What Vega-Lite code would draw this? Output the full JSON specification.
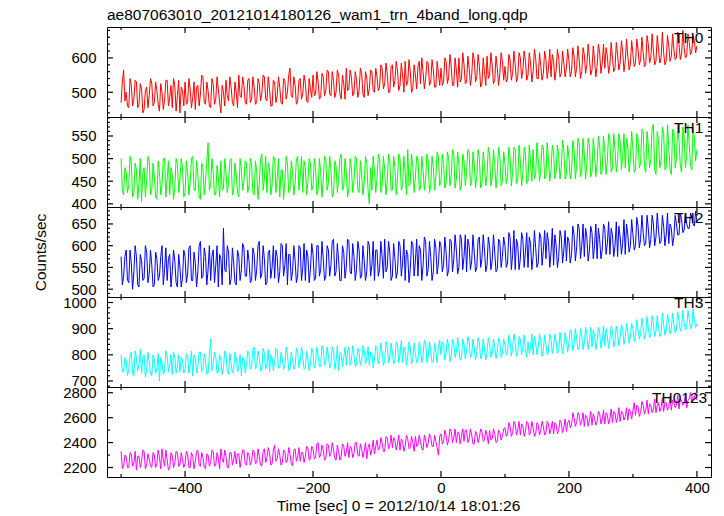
{
"$schema": "https://vega.github.io/schema/vega-lite/v6.json",
"padding": {"left": 32, "top": 7, "right": 12, "bottom": 2},
"background": "white",
"title": {"text": "ae807063010_20121014180126_wam1_trn_4band_long.qdp", "anchor": "start", "frame": "group", "font": "Liberation Sans", "fontSize": 15.5, "fontWeight": "normal", "color": "black", "offset": 3},
"config": {
  "view": {"stroke": "black", "strokeWidth": 1},
  "axis": {"domain": false, "ticks": false, "grid": false, "labelFont": "Liberation Sans", "labelFontSize": 15, "labelColor": "black", "labelFlush": false, "labelOverlap": false, "titleFont": "Liberation Sans", "titleFontSize": 15.5, "titleFontWeight": "normal", "titleColor": "black"},
  "axisX": {"labelPadding": 3},
  "axisY": {"labelPadding": 11},
  "text": {"font": "Liberation Sans", "fontSize": 15.5, "color": "black", "align": "right", "baseline": "alphabetic"},
  "tick": {"color": "black", "thickness": 1.2, "opacity": 1}
},
"bounds": "flush",
"spacing": 0,
"datasets": {
"xM": [{"v":-400},{"v":-200},{"v":0},{"v":200},{"v":400}],
"xm": [{"v":-500},{"v":-300},{"v":-100},{"v":100},{"v":300}],
"y0M": [{"v":500},{"v":600}],
"y0m": [{"v":440},{"v":460},{"v":480},{"v":520},{"v":540},{"v":560},{"v":580},{"v":620},{"v":640},{"v":660},{"v":680}],
"y1M": [{"v":400},{"v":450},{"v":500},{"v":550}],
"y1m": [{"v":410},{"v":420},{"v":430},{"v":440},{"v":460},{"v":470},{"v":480},{"v":490},{"v":510},{"v":520},{"v":530},{"v":540},{"v":560},{"v":570},{"v":580},{"v":590}],
"y2M": [{"v":500},{"v":550},{"v":600},{"v":650}],
"y2m": [{"v":490},{"v":510},{"v":520},{"v":530},{"v":540},{"v":560},{"v":570},{"v":580},{"v":590},{"v":610},{"v":620},{"v":630},{"v":640},{"v":660},{"v":670},{"v":680}],
"y3M": [{"v":700},{"v":800},{"v":900},{"v":1000}],
"y3m": [{"v":680},{"v":720},{"v":740},{"v":760},{"v":780},{"v":820},{"v":840},{"v":860},{"v":880},{"v":920},{"v":940},{"v":960},{"v":980},{"v":1020}],
"y4M": [{"v":2200},{"v":2400},{"v":2600},{"v":2800}],
"y4m": [{"v":2300},{"v":2500},{"v":2700}],
"lc": [
{"t":-500,"a":470,"b":500,"c":575,"d":800,"e":2330},
{"t":-498,"a":530,"b":430,"c":510,"d":735,"e":2190},
{"t":-496,"a":565,"b":420,"c":530,"d":735,"e":2210},
{"t":-494,"a":475,"b":480,"c":575,"d":790,"e":2300},
{"t":-492,"a":500,"b":470,"c":590,"d":780,"e":2290},
{"t":-490,"a":460,"b":425,"c":520,"d":720,"e":2200},
{"t":-488,"a":455,"b":440,"c":515,"d":745,"e":2200},
{"t":-486,"a":540,"b":505,"c":590,"d":795,"e":2320},
{"t":-484,"a":520,"b":490,"c":560,"d":810,"e":2310},
{"t":-482,"a":460,"b":415,"c":500,"d":730,"e":2210},
{"t":-480,"a":480,"b":425,"c":540,"d":720,"e":2240},
{"t":-478,"a":535,"b":490,"c":600,"d":815,"e":2330},
{"t":-476,"a":530,"b":475,"c":575,"d":790,"e":2180},
{"t":-474,"a":455,"b":410,"c":510,"d":740,"e":2290},
{"t":-472,"a":465,"b":445,"c":505,"d":760,"e":2290},
{"t":-470,"a":525,"b":500,"c":580,"d":820,"e":2200},
{"t":-468,"a":510,"b":405,"c":565,"d":730,"e":2250},
{"t":-466,"a":440,"b":470,"c":520,"d":790,"e":2340},
{"t":-464,"a":450,"b":480,"c":525,"d":800,"e":2330},
{"t":-462,"a":505,"b":415,"c":600,"d":715,"e":2190},
{"t":-460,"a":515,"b":450,"c":585,"d":745,"e":2220},
{"t":-458,"a":455,"b":505,"c":515,"d":810,"e":2310},
{"t":-456,"a":490,"b":495,"c":535,"d":775,"e":2270},
{"t":-454,"a":540,"b":420,"c":590,"d":725,"e":2210},
{"t":-452,"a":525,"b":430,"c":555,"d":720,"e":2200},
{"t":-450,"a":460,"b":490,"c":505,"d":800,"e":2320},
{"t":-448,"a":470,"b":460,"c":510,"d":785,"e":2300},
{"t":-446,"a":530,"b":415,"c":585,"d":730,"e":2200},
{"t":-444,"a":505,"b":410,"c":570,"d":750,"e":2230},
{"t":-442,"a":465,"b":495,"c":520,"d":805,"e":2340},
{"t":-440,"a":445,"b":470,"c":530,"d":700,"e":2280},
{"t":-438,"a":525,"b":420,"c":575,"d":790,"e":2190},
{"t":-436,"a":500,"b":440,"c":600,"d":770,"e":2350},
{"t":-434,"a":450,"b":500,"c":510,"d":725,"e":2260},
{"t":-432,"a":475,"b":500,"c":545,"d":740,"e":2210},
{"t":-430,"a":535,"b":415,"c":595,"d":815,"e":2340},
{"t":-428,"a":535,"b":455,"c":520,"d":800,"e":2260},
{"t":-426,"a":460,"b":495,"c":570,"d":735,"e":2180},
{"t":-424,"a":485,"b":420,"c":580,"d":760,"e":2190},
{"t":-422,"a":520,"b":480,"c":505,"d":800,"e":2320},
{"t":-420,"a":455,"b":465,"c":540,"d":725,"e":2300},
{"t":-418,"a":540,"b":410,"c":590,"d":810,"e":2200},
{"t":-416,"a":520,"b":435,"c":565,"d":790,"e":2240},
{"t":-414,"a":445,"b":500,"c":515,"d":730,"e":2330},
{"t":-412,"a":490,"b":490,"c":505,"d":755,"e":2320},
{"t":-410,"a":535,"b":425,"c":580,"d":800,"e":2210},
{"t":-408,"a":440,"b":455,"c":550,"d":735,"e":2220},
{"t":-406,"a":515,"b":500,"c":505,"d":790,"e":2320},
{"t":-404,"a":505,"b":480,"c":525,"d":780,"e":2270},
{"t":-402,"a":460,"b":415,"c":590,"d":730,"e":2200},
{"t":-400,"a":530,"b":425,"c":575,"d":745,"e":2230},
{"t":-398,"a":465,"b":495,"c":515,"d":805,"e":2330},
{"t":-396,"a":470,"b":470,"c":535,"d":800,"e":2310},
{"t":-394,"a":540,"b":420,"c":595,"d":730,"e":2200},
{"t":-392,"a":510,"b":445,"c":600,"d":760,"e":2200},
{"t":-390,"a":455,"b":500,"c":520,"d":815,"e":2320},
{"t":-388,"a":485,"b":505,"c":520,"d":720,"e":2290},
{"t":-386,"a":530,"b":430,"c":585,"d":800,"e":2190},
{"t":-384,"a":450,"b":430,"c":560,"d":790,"e":2250},
{"t":-382,"a":515,"b":495,"c":505,"d":730,"e":2330},
{"t":-380,"a":520,"b":465,"c":540,"d":755,"e":2340},
{"t":-378,"a":460,"b":415,"c":600,"d":810,"e":2220},
{"t":-376,"a":495,"b":410,"c":610,"d":810,"e":2210},
{"t":-374,"a":550,"b":490,"c":525,"d":735,"e":2320},
{"t":-372,"a":545,"b":480,"c":530,"d":740,"e":2280},
{"t":-370,"a":470,"b":420,"c":595,"d":805,"e":2200},
{"t":-368,"a":465,"b":450,"c":575,"d":775,"e":2190},
{"t":-366,"a":530,"b":495,"c":510,"d":725,"e":2310},
{"t":-364,"a":505,"b":535,"c":545,"d":730,"e":2300},
{"t":-362,"a":460,"b":430,"c":600,"d":800,"e":2210},
{"t":-360,"a":455,"b":440,"c":520,"d":860,"e":2245},
{"t":-358,"a":540,"b":500,"c":575,"d":740,"e":2340},
{"t":-356,"a":525,"b":470,"c":590,"d":765,"e":2330},
{"t":-354,"a":465,"b":420,"c":515,"d":810,"e":2210},
{"t":-352,"a":480,"b":420,"c":555,"d":795,"e":2220},
{"t":-350,"a":545,"b":485,"c":600,"d":730,"e":2320},
{"t":-348,"a":510,"b":460,"c":505,"d":735,"e":2275},
{"t":-346,"a":470,"b":415,"c":580,"d":800,"e":2190},
{"t":-344,"a":440,"b":495,"c":570,"d":780,"e":2350},
{"t":-342,"a":520,"b":430,"c":510,"d":725,"e":2270},
{"t":-340,"a":500,"b":435,"c":640,"d":750,"e":2240},
{"t":-338,"a":460,"b":500,"c":545,"d":815,"e":2340},
{"t":-336,"a":535,"b":470,"c":540,"d":800,"e":2290},
{"t":-334,"a":490,"b":425,"c":600,"d":740,"e":2200},
{"t":-332,"a":475,"b":445,"c":585,"d":725,"e":2200},
{"t":-330,"a":545,"b":495,"c":510,"d":805,"e":2320},
{"t":-328,"a":515,"b":500,"c":525,"d":770,"e":2320},
{"t":-326,"a":470,"b":420,"c":595,"d":730,"e":2220},
{"t":-324,"a":460,"b":430,"c":560,"d":745,"e":2260},
{"t":-322,"a":530,"b":490,"c":515,"d":810,"e":2330},
{"t":-320,"a":500,"b":465,"c":510,"d":790,"e":2230},
{"t":-318,"a":455,"b":425,"c":590,"d":735,"e":2310},
{"t":-316,"a":550,"b":415,"c":575,"d":755,"e":2310},
{"t":-314,"a":490,"b":500,"c":520,"d":800,"e":2200},
{"t":-312,"a":485,"b":475,"c":545,"d":720,"e":2270},
{"t":-310,"a":545,"b":430,"c":605,"d":790,"e":2340},
{"t":-308,"a":520,"b":450,"c":595,"d":785,"e":2340},
{"t":-306,"a":470,"b":495,"c":530,"d":730,"e":2230},
{"t":-304,"a":465,"b":490,"c":530,"d":760,"e":2220},
{"t":-302,"a":535,"b":425,"c":590,"d":815,"e":2320},
{"t":-300,"a":540,"b":440,"c":565,"d":800,"e":2300},
{"t":-298,"a":470,"b":500,"c":515,"d":745,"e":2220},
{"t":-296,"a":480,"b":485,"c":520,"d":750,"e":2250},
{"t":-294,"a":545,"b":425,"c":595,"d":820,"e":2340},
{"t":-292,"a":515,"b":420,"c":580,"d":830,"e":2330},
{"t":-290,"a":465,"b":495,"c":520,"d":745,"e":2230},
{"t":-288,"a":470,"b":470,"c":545,"d":760,"e":2240},
{"t":-286,"a":540,"b":410,"c":600,"d":815,"e":2350},
{"t":-284,"a":525,"b":445,"c":610,"d":790,"e":2290},
{"t":-282,"a":475,"b":500,"c":525,"d":740,"e":2220},
{"t":-280,"a":495,"b":510,"c":535,"d":740,"e":2210},
{"t":-278,"a":550,"b":430,"c":600,"d":825,"e":2330},
{"t":-276,"a":545,"b":455,"c":570,"d":805,"e":2350},
{"t":-274,"a":480,"b":505,"c":510,"d":745,"e":2240},
{"t":-272,"a":475,"b":425,"c":515,"d":765,"e":2280},
{"t":-270,"a":545,"b":490,"c":585,"d":820,"e":2360},
{"t":-268,"a":510,"b":480,"c":590,"d":735,"e":2320},
{"t":-266,"a":460,"b":420,"c":525,"d":800,"e":2220},
{"t":-264,"a":460,"b":440,"c":550,"d":790,"e":2230},
{"t":-262,"a":535,"b":505,"c":600,"d":740,"e":2340},
{"t":-260,"a":530,"b":500,"c":525,"d":770,"e":2380},
{"t":-258,"a":470,"b":425,"c":590,"d":825,"e":2250},
{"t":-256,"a":490,"b":455,"c":575,"d":820,"e":2270},
{"t":-254,"a":545,"b":500,"c":515,"d":750,"e":2350},
{"t":-252,"a":515,"b":415,"c":540,"d":750,"e":2300},
{"t":-250,"a":470,"b":475,"c":605,"d":810,"e":2220},
{"t":-248,"a":465,"b":475,"c":600,"d":785,"e":2240},
{"t":-246,"a":540,"b":410,"c":530,"d":745,"e":2340},
{"t":-244,"a":535,"b":450,"c":555,"d":760,"e":2330},
{"t":-242,"a":480,"b":505,"c":605,"d":830,"e":2240},
{"t":-240,"a":500,"b":490,"c":510,"d":805,"e":2260},
{"t":-238,"a":550,"b":425,"c":580,"d":740,"e":2360},
{"t":-236,"a":570,"b":430,"c":580,"d":745,"e":2310},
{"t":-234,"a":490,"b":495,"c":520,"d":810,"e":2230},
{"t":-232,"a":485,"b":470,"c":540,"d":780,"e":2215},
{"t":-230,"a":545,"b":420,"c":600,"d":745,"e":2340},
{"t":-228,"a":520,"b":445,"c":565,"d":755,"e":2350},
{"t":-226,"a":465,"b":500,"c":515,"d":825,"e":2250},
{"t":-224,"a":475,"b":505,"c":530,"d":810,"e":2280},
{"t":-222,"a":535,"b":430,"c":600,"d":750,"e":2360},
{"t":-220,"a":540,"b":460,"c":595,"d":770,"e":2250},
{"t":-218,"a":480,"b":505,"c":520,"d":830,"e":2320},
{"t":-216,"a":495,"b":425,"c":550,"d":795,"e":2320},
{"t":-214,"a":550,"b":495,"c":605,"d":745,"e":2240},
{"t":-212,"a":525,"b":480,"c":520,"d":750,"e":2290},
{"t":-210,"a":475,"b":420,"c":590,"d":815,"e":2370},
{"t":-208,"a":470,"b":450,"c":575,"d":780,"e":2360},
{"t":-206,"a":540,"b":500,"c":515,"d":740,"e":2260},
{"t":-204,"a":510,"b":490,"c":545,"d":765,"e":2270},
{"t":-202,"a":485,"b":430,"c":605,"d":825,"e":2370},
{"t":-200,"a":550,"b":440,"c":580,"d":810,"e":2350},
{"t":-198,"a":490,"b":500,"c":520,"d":750,"e":2270},
{"t":-196,"a":495,"b":480,"c":525,"d":770,"e":2280},
{"t":-194,"a":560,"b":420,"c":600,"d":830,"e":2390},
{"t":-192,"a":530,"b":430,"c":600,"d":795,"e":2400},
{"t":-190,"a":480,"b":500,"c":530,"d":755,"e":2280},
{"t":-188,"a":485,"b":470,"c":545,"d":755,"e":2300},
{"t":-186,"a":555,"b":415,"c":610,"d":835,"e":2380},
{"t":-184,"a":545,"b":455,"c":570,"d":820,"e":2340},
{"t":-182,"a":490,"b":505,"c":520,"d":760,"e":2260},
{"t":-180,"a":505,"b":500,"c":530,"d":780,"e":2270},
{"t":-178,"a":565,"b":430,"c":600,"d":830,"e":2390},
{"t":-176,"a":560,"b":445,"c":590,"d":800,"e":2380},
{"t":-174,"a":495,"b":505,"c":530,"d":750,"e":2290},
{"t":-172,"a":490,"b":475,"c":555,"d":765,"e":2310},
{"t":-170,"a":560,"b":415,"c":610,"d":830,"e":2400},
{"t":-168,"a":535,"b":420,"c":615,"d":815,"e":2350},
{"t":-166,"a":485,"b":495,"c":530,"d":745,"e":2270},
{"t":-164,"a":500,"b":485,"c":540,"d":775,"e":2260},
{"t":-162,"a":565,"b":425,"c":605,"d":835,"e":2380},
{"t":-160,"a":550,"b":455,"c":565,"d":740,"e":2330},
{"t":-158,"a":495,"b":500,"c":520,"d":810,"e":2260},
{"t":-156,"a":480,"b":510,"c":520,"d":805,"e":2290},
{"t":-154,"a":550,"b":430,"c":600,"d":755,"e":2390},
{"t":-152,"a":525,"b":440,"c":585,"d":790,"e":2370},
{"t":-150,"a":480,"b":500,"c":525,"d":830,"e":2290},
{"t":-148,"a":570,"b":470,"c":550,"d":760,"e":2320},
{"t":-146,"a":505,"b":415,"c":615,"d":810,"e":2400},
{"t":-144,"a":510,"b":435,"c":610,"d":830,"e":2280},
{"t":-142,"a":565,"b":500,"c":540,"d":760,"e":2370},
{"t":-140,"a":545,"b":480,"c":535,"d":780,"e":2360},
{"t":-138,"a":490,"b":425,"c":605,"d":835,"e":2280},
{"t":-136,"a":495,"b":450,"c":575,"d":800,"e":2310},
{"t":-134,"a":560,"b":505,"c":520,"d":755,"e":2400},
{"t":-132,"a":535,"b":500,"c":545,"d":765,"e":2400},
{"t":-130,"a":485,"b":430,"c":610,"d":825,"e":2300},
{"t":-128,"a":505,"b":425,"c":590,"d":810,"e":2290},
{"t":-126,"a":570,"b":495,"c":525,"d":760,"e":2390},
{"t":-124,"a":555,"b":465,"c":530,"d":775,"e":2350},
{"t":-122,"a":495,"b":420,"c":600,"d":835,"e":2280},
{"t":-120,"a":485,"b":445,"c":565,"d":820,"e":2330},
{"t":-118,"a":560,"b":505,"c":520,"d":765,"e":2400},
{"t":-116,"a":540,"b":490,"c":540,"d":790,"e":2270},
{"t":-114,"a":490,"b":430,"c":610,"d":830,"e":2360},
{"t":-112,"a":510,"b":400,"c":600,"d":760,"e":2390},
{"t":-110,"a":565,"b":480,"c":530,"d":810,"e":2300},
{"t":-108,"a":560,"b":430,"c":555,"d":805,"e":2340},
{"t":-106,"a":505,"b":505,"c":610,"d":750,"e":2420},
{"t":-104,"a":500,"b":475,"c":520,"d":780,"e":2310},
{"t":-102,"a":570,"b":425,"c":590,"d":835,"e":2370},
{"t":-100,"a":545,"b":455,"c":590,"d":825,"e":2420},
{"t":-98,"a":505,"b":510,"c":530,"d":765,"e":2340},
{"t":-96,"a":515,"b":500,"c":545,"d":790,"e":2350},
{"t":-94,"a":580,"b":425,"c":610,"d":845,"e":2440},
{"t":-92,"a":570,"b":440,"c":575,"d":810,"e":2400},
{"t":-90,"a":510,"b":505,"c":525,"d":760,"e":2330},
{"t":-88,"a":525,"b":475,"c":615,"d":775,"e":2330},
{"t":-86,"a":585,"b":420,"c":540,"d":850,"e":2450},
{"t":-84,"a":555,"b":450,"c":550,"d":835,"e":2440},
{"t":-82,"a":500,"b":510,"c":610,"d":770,"e":2350},
{"t":-80,"a":500,"b":495,"c":585,"d":795,"e":2380},
{"t":-78,"a":575,"b":430,"c":520,"d":845,"e":2460},
{"t":-76,"a":580,"b":430,"c":530,"d":810,"e":2360},
{"t":-74,"a":515,"b":505,"c":605,"d":765,"e":2440},
{"t":-72,"a":535,"b":480,"c":570,"d":780,"e":2420},
{"t":-70,"a":590,"b":420,"c":525,"d":850,"e":2340},
{"t":-68,"a":565,"b":455,"c":540,"d":840,"e":2390},
{"t":-66,"a":505,"b":510,"c":610,"d":770,"e":2460},
{"t":-64,"a":520,"b":500,"c":600,"d":800,"e":2340},
{"t":-62,"a":585,"b":430,"c":530,"d":855,"e":2430},
{"t":-60,"a":550,"b":440,"c":560,"d":770,"e":2410},
{"t":-58,"a":500,"b":505,"c":615,"d":830,"e":2330},
{"t":-56,"a":590,"b":470,"c":520,"d":815,"e":2370},
{"t":-54,"a":520,"b":420,"c":590,"d":760,"e":2460},
{"t":-52,"a":530,"b":520,"c":580,"d":795,"e":2430},
{"t":-50,"a":595,"b":440,"c":515,"d":850,"e":2350},
{"t":-48,"a":560,"b":445,"c":545,"d":830,"e":2360},
{"t":-46,"a":500,"b":510,"c":610,"d":765,"e":2450},
{"t":-44,"a":510,"b":480,"c":605,"d":785,"e":2400},
{"t":-42,"a":580,"b":425,"c":530,"d":845,"e":2330},
{"t":-40,"a":550,"b":460,"c":565,"d":805,"e":2450},
{"t":-38,"a":510,"b":505,"c":615,"d":770,"e":2370},
{"t":-36,"a":575,"b":500,"c":530,"d":780,"e":2380},
{"t":-34,"a":590,"b":430,"c":600,"d":850,"e":2460},
{"t":-32,"a":525,"b":435,"c":590,"d":825,"e":2410},
{"t":-30,"a":600,"b":505,"c":520,"d":770,"e":2350},
{"t":-28,"a":560,"b":475,"c":555,"d":800,"e":2340},
{"t":-26,"a":510,"b":430,"c":620,"d":855,"e":2460},
{"t":-24,"a":540,"b":455,"c":610,"d":845,"e":2420},
{"t":-22,"a":590,"b":510,"c":530,"d":770,"e":2360},
{"t":-20,"a":585,"b":495,"c":545,"d":790,"e":2395},
{"t":-18,"a":520,"b":425,"c":610,"d":850,"e":2470},
{"t":-16,"a":530,"b":440,"c":575,"d":815,"e":2440},
{"t":-14,"a":595,"b":505,"c":520,"d":770,"e":2370},
{"t":-12,"a":565,"b":480,"c":540,"d":775,"e":2370},
{"t":-10,"a":515,"b":430,"c":615,"d":845,"e":2460},
{"t":-8,"a":515,"b":460,"c":595,"d":810,"e":2410},
{"t":-6,"a":590,"b":515,"c":535,"d":770,"e":2360},
{"t":-4,"a":555,"b":505,"c":560,"d":830,"e":2300},
{"t":-2,"a":520,"b":440,"c":610,"d":855,"e":2450},
{"t":0,"a":570,"b":450,"c":600,"d":800,"e":2470},
{"t":2,"a":520,"b":510,"c":540,"d":850,"e":2390},
{"t":4,"a":530,"b":490,"c":555,"d":840,"e":2410},
{"t":6,"a":600,"b":435,"c":620,"d":780,"e":2500},
{"t":8,"a":590,"b":445,"c":585,"d":810,"e":2460},
{"t":10,"a":525,"b":515,"c":530,"d":860,"e":2380},
{"t":12,"a":545,"b":500,"c":545,"d":830,"e":2420},
{"t":14,"a":610,"b":440,"c":615,"d":775,"e":2510},
{"t":16,"a":575,"b":465,"c":610,"d":795,"e":2490},
{"t":18,"a":520,"b":520,"c":540,"d":860,"e":2400},
{"t":20,"a":520,"b":510,"c":570,"d":845,"e":2440},
{"t":22,"a":600,"b":435,"c":625,"d":790,"e":2510},
{"t":24,"a":565,"b":455,"c":590,"d":810,"e":2400},
{"t":26,"a":515,"b":515,"c":535,"d":865,"e":2480},
{"t":28,"a":600,"b":485,"c":550,"d":825,"e":2480},
{"t":30,"a":530,"b":430,"c":625,"d":780,"e":2390},
{"t":32,"a":540,"b":440,"c":615,"d":790,"e":2450},
{"t":34,"a":615,"b":510,"c":545,"d":860,"e":2510},
{"t":36,"a":580,"b":495,"c":575,"d":840,"e":2410},
{"t":38,"a":525,"b":440,"c":625,"d":785,"e":2500},
{"t":40,"a":530,"b":470,"c":540,"d":815,"e":2500},
{"t":42,"a":605,"b":520,"c":615,"d":870,"e":2400},
{"t":44,"a":570,"b":515,"c":600,"d":850,"e":2430},
{"t":46,"a":520,"b":440,"c":545,"d":790,"e":2510},
{"t":48,"a":550,"b":450,"c":565,"d":800,"e":2460},
{"t":50,"a":615,"b":515,"c":625,"d":860,"e":2390},
{"t":52,"a":595,"b":490,"c":585,"d":830,"e":2390},
{"t":54,"a":530,"b":435,"c":540,"d":780,"e":2490},
{"t":56,"a":545,"b":460,"c":550,"d":810,"e":2470},
{"t":58,"a":610,"b":520,"c":615,"d":865,"e":2400},
{"t":60,"a":575,"b":500,"c":620,"d":845,"e":2440},
{"t":62,"a":515,"b":435,"c":550,"d":785,"e":2510},
{"t":64,"a":525,"b":445,"c":570,"d":795,"e":2490},
{"t":66,"a":600,"b":515,"c":625,"d":860,"e":2410},
{"t":68,"a":560,"b":485,"c":590,"d":825,"e":2420},
{"t":70,"a":520,"b":440,"c":540,"d":780,"e":2500},
{"t":72,"a":605,"b":465,"c":555,"d":810,"e":2460},
{"t":74,"a":540,"b":525,"c":620,"d":865,"e":2390},
{"t":76,"a":550,"b":510,"c":600,"d":840,"e":2500},
{"t":78,"a":615,"b":440,"c":545,"d":790,"e":2420},
{"t":80,"a":580,"b":455,"c":565,"d":800,"e":2430},
{"t":82,"a":525,"b":520,"c":625,"d":860,"e":2510},
{"t":84,"a":535,"b":490,"c":585,"d":830,"e":2470},
{"t":86,"a":605,"b":435,"c":540,"d":785,"e":2400},
{"t":88,"a":570,"b":470,"c":545,"d":815,"e":2410},
{"t":90,"a":520,"b":525,"c":615,"d":865,"e":2500},
{"t":92,"a":555,"b":505,"c":610,"d":850,"e":2480},
{"t":94,"a":615,"b":440,"c":550,"d":790,"e":2420},
{"t":96,"a":590,"b":450,"c":575,"d":805,"e":2450},
{"t":98,"a":535,"b":515,"c":620,"d":860,"e":2510},
{"t":100,"a":575,"b":490,"c":600,"d":840,"e":2520},
{"t":102,"a":530,"b":445,"c":550,"d":800,"e":2450},
{"t":104,"a":540,"b":460,"c":560,"d":810,"e":2470},
{"t":106,"a":610,"b":525,"c":630,"d":875,"e":2560},
{"t":108,"a":595,"b":505,"c":620,"d":855,"e":2530},
{"t":110,"a":535,"b":440,"c":545,"d":795,"e":2450},
{"t":112,"a":555,"b":470,"c":580,"d":825,"e":2480},
{"t":114,"a":620,"b":525,"c":635,"d":880,"e":2570},
{"t":116,"a":580,"b":520,"c":545,"d":845,"e":2550},
{"t":118,"a":530,"b":445,"c":615,"d":795,"e":2460},
{"t":120,"a":545,"b":455,"c":600,"d":810,"e":2500},
{"t":122,"a":615,"b":530,"c":545,"d":870,"e":2570},
{"t":124,"a":600,"b":495,"c":570,"d":860,"e":2460},
{"t":126,"a":540,"b":440,"c":630,"d":800,"e":2550},
{"t":128,"a":565,"b":470,"c":615,"d":830,"e":2530},
{"t":130,"a":620,"b":525,"c":550,"d":875,"e":2450},
{"t":132,"a":590,"b":510,"c":585,"d":815,"e":2490},
{"t":134,"a":535,"b":445,"c":630,"d":790,"e":2570},
{"t":136,"a":550,"b":450,"c":550,"d":850,"e":2560},
{"t":138,"a":615,"b":530,"c":620,"d":805,"e":2460},
{"t":140,"a":585,"b":490,"c":605,"d":825,"e":2480},
{"t":142,"a":530,"b":450,"c":545,"d":880,"e":2570},
{"t":144,"a":560,"b":520,"c":575,"d":800,"e":2520},
{"t":146,"a":625,"b":455,"c":635,"d":870,"e":2450},
{"t":148,"a":600,"b":465,"c":595,"d":845,"e":2470},
{"t":150,"a":540,"b":535,"c":550,"d":800,"e":2560},
{"t":152,"a":540,"b":500,"c":560,"d":830,"e":2540},
{"t":154,"a":615,"b":450,"c":630,"d":880,"e":2460},
{"t":156,"a":575,"b":480,"c":620,"d":855,"e":2500},
{"t":158,"a":535,"b":530,"c":555,"d":795,"e":2570},
{"t":160,"a":555,"b":525,"c":590,"d":820,"e":2530},
{"t":162,"a":620,"b":455,"c":635,"d":875,"e":2460},
{"t":164,"a":595,"b":460,"c":570,"d":840,"e":2480},
{"t":166,"a":540,"b":535,"c":630,"d":800,"e":2570},
{"t":168,"a":570,"b":500,"c":610,"d":810,"e":2550},
{"t":170,"a":625,"b":450,"c":550,"d":880,"e":2470},
{"t":172,"a":545,"b":475,"c":585,"d":860,"e":2510},
{"t":174,"a":610,"b":530,"c":640,"d":805,"e":2570},
{"t":176,"a":590,"b":515,"c":555,"d":830,"e":2470},
{"t":178,"a":535,"b":455,"c":625,"d":880,"e":2560},
{"t":180,"a":565,"b":470,"c":600,"d":850,"e":2540},
{"t":182,"a":625,"b":530,"c":550,"d":805,"e":2470},
{"t":184,"a":600,"b":505,"c":575,"d":820,"e":2500},
{"t":186,"a":545,"b":455,"c":635,"d":885,"e":2580},
{"t":188,"a":555,"b":480,"c":620,"d":845,"e":2560},
{"t":190,"a":620,"b":540,"c":560,"d":805,"e":2480},
{"t":192,"a":585,"b":520,"c":590,"d":835,"e":2520},
{"t":194,"a":545,"b":455,"c":635,"d":885,"e":2590},
{"t":196,"a":570,"b":465,"c":565,"d":860,"e":2490},
{"t":198,"a":625,"b":530,"c":620,"d":810,"e":2560},
{"t":200,"a":590,"b":500,"c":610,"d":850,"e":2580},
{"t":202,"a":545,"b":455,"c":560,"d":895,"e":2520},
{"t":204,"a":560,"b":470,"c":580,"d":880,"e":2540},
{"t":206,"a":630,"b":540,"c":645,"d":815,"e":2640},
{"t":208,"a":605,"b":520,"c":625,"d":840,"e":2600},
{"t":210,"a":545,"b":455,"c":565,"d":900,"e":2530},
{"t":212,"a":570,"b":485,"c":595,"d":865,"e":2560},
{"t":214,"a":635,"b":545,"c":650,"d":820,"e":2640},
{"t":216,"a":595,"b":535,"c":640,"d":830,"e":2620},
{"t":218,"a":540,"b":460,"c":570,"d":900,"e":2540},
{"t":220,"a":560,"b":475,"c":600,"d":870,"e":2570},
{"t":222,"a":630,"b":545,"c":650,"d":820,"e":2640},
{"t":224,"a":610,"b":510,"c":575,"d":845,"e":2530},
{"t":226,"a":555,"b":455,"c":640,"d":905,"e":2620},
{"t":228,"a":580,"b":490,"c":620,"d":880,"e":2610},
{"t":230,"a":640,"b":545,"c":565,"d":820,"e":2530},
{"t":232,"a":600,"b":530,"c":590,"d":850,"e":2580},
{"t":234,"a":550,"b":460,"c":645,"d":905,"e":2650},
{"t":236,"a":565,"b":470,"c":630,"d":830,"e":2540},
{"t":238,"a":635,"b":545,"c":570,"d":895,"e":2630},
{"t":240,"a":595,"b":515,"c":600,"d":875,"e":2600},
{"t":242,"a":545,"b":460,"c":650,"d":820,"e":2540},
{"t":244,"a":575,"b":490,"c":570,"d":850,"e":2570},
{"t":246,"a":640,"b":550,"c":640,"d":905,"e":2650},
{"t":248,"a":615,"b":530,"c":615,"d":885,"e":2630},
{"t":250,"a":555,"b":465,"c":570,"d":825,"e":2550},
{"t":252,"a":585,"b":475,"c":590,"d":855,"e":2580},
{"t":254,"a":640,"b":550,"c":650,"d":910,"e":2660},
{"t":256,"a":570,"b":515,"c":640,"d":835,"e":2550},
{"t":258,"a":630,"b":465,"c":580,"d":900,"e":2640},
{"t":260,"a":605,"b":495,"c":605,"d":870,"e":2620},
{"t":262,"a":555,"b":555,"c":655,"d":825,"e":2550},
{"t":264,"a":580,"b":540,"c":580,"d":860,"e":2590},
{"t":266,"a":645,"b":470,"c":640,"d":910,"e":2670},
{"t":268,"a":600,"b":480,"c":625,"d":890,"e":2560},
{"t":270,"a":560,"b":555,"c":575,"d":830,"e":2650},
{"t":272,"a":570,"b":520,"c":600,"d":855,"e":2640},
{"t":274,"a":645,"b":470,"c":655,"d":910,"e":2560},
{"t":276,"a":610,"b":495,"c":575,"d":880,"e":2600},
{"t":278,"a":565,"b":555,"c":645,"d":835,"e":2680},
{"t":280,"a":585,"b":540,"c":620,"d":870,"e":2570},
{"t":282,"a":650,"b":475,"c":580,"d":915,"e":2650},
{"t":284,"a":620,"b":505,"c":605,"d":895,"e":2640},
{"t":286,"a":560,"b":555,"c":660,"d":840,"e":2580},
{"t":288,"a":590,"b":480,"c":580,"d":865,"e":2610},
{"t":290,"a":655,"b":545,"c":650,"d":920,"e":2680},
{"t":292,"a":605,"b":525,"c":625,"d":885,"e":2580},
{"t":294,"a":565,"b":470,"c":585,"d":845,"e":2670},
{"t":296,"a":580,"b":500,"c":600,"d":870,"e":2650},
{"t":298,"a":650,"b":560,"c":660,"d":920,"e":2590},
{"t":300,"a":610,"b":520,"c":625,"d":900,"e":2660},
{"t":302,"a":575,"b":470,"c":590,"d":850,"e":2720},
{"t":304,"a":585,"b":475,"c":600,"d":870,"e":2620},
{"t":306,"a":655,"b":555,"c":665,"d":935,"e":2700},
{"t":308,"a":625,"b":545,"c":645,"d":895,"e":2690},
{"t":310,"a":580,"b":480,"c":595,"d":860,"e":2610},
{"t":312,"a":595,"b":490,"c":615,"d":880,"e":2640},
{"t":314,"a":660,"b":565,"c":670,"d":940,"e":2730},
{"t":316,"a":615,"b":560,"c":630,"d":910,"e":2700},
{"t":318,"a":575,"b":480,"c":600,"d":860,"e":2630},
{"t":320,"a":580,"b":470,"c":605,"d":875,"e":2660},
{"t":322,"a":665,"b":560,"c":670,"d":945,"e":2740},
{"t":324,"a":640,"b":530,"c":640,"d":905,"e":2630},
{"t":326,"a":585,"b":480,"c":595,"d":865,"e":2710},
{"t":328,"a":600,"b":500,"c":615,"d":880,"e":2700},
{"t":330,"a":670,"b":570,"c":670,"d":950,"e":2640},
{"t":332,"a":620,"b":575,"c":650,"d":920,"e":2670},
{"t":334,"a":580,"b":475,"c":600,"d":870,"e":2750},
{"t":336,"a":590,"b":465,"c":620,"d":890,"e":2640},
{"t":338,"a":665,"b":560,"c":675,"d":950,"e":2700},
{"t":340,"a":625,"b":540,"c":635,"d":905,"e":2720},
{"t":342,"a":585,"b":480,"c":605,"d":870,"e":2650},
{"t":344,"a":600,"b":495,"c":610,"d":880,"e":2680},
{"t":346,"a":675,"b":570,"c":670,"d":960,"e":2760},
{"t":348,"a":615,"b":555,"c":645,"d":915,"e":2650},
{"t":350,"a":580,"b":475,"c":600,"d":875,"e":2720},
{"t":352,"a":590,"b":480,"c":625,"d":890,"e":2720},
{"t":354,"a":665,"b":575,"c":675,"d":955,"e":2660},
{"t":356,"a":635,"b":525,"c":605,"d":925,"e":2690},
{"t":358,"a":590,"b":475,"c":650,"d":880,"e":2770},
{"t":360,"a":605,"b":465,"c":640,"d":900,"e":2660},
{"t":362,"a":670,"b":565,"c":600,"d":960,"e":2740},
{"t":364,"a":625,"b":560,"c":620,"d":915,"e":2730},
{"t":366,"a":595,"b":480,"c":670,"d":885,"e":2680},
{"t":368,"a":600,"b":500,"c":650,"d":895,"e":2700},
{"t":370,"a":675,"b":575,"c":625,"d":965,"e":2780},
{"t":372,"a":640,"b":540,"c":625,"d":930,"e":2670},
{"t":374,"a":595,"b":485,"c":675,"d":890,"e":2750},
{"t":376,"a":610,"b":470,"c":660,"d":905,"e":2740},
{"t":378,"a":680,"b":570,"c":630,"d":970,"e":2700},
{"t":380,"a":630,"b":550,"c":635,"d":920,"e":2710},
{"t":382,"a":600,"b":480,"c":675,"d":895,"e":2790},
{"t":384,"a":605,"b":505,"c":650,"d":900,"e":2680},
{"t":386,"a":670,"b":575,"c":640,"d":970,"e":2740},
{"t":388,"a":645,"b":530,"c":640,"d":935,"e":2750},
{"t":390,"a":610,"b":485,"c":675,"d":900,"e":2800},
{"t":392,"a":620,"b":475,"c":665,"d":910,"e":2720},
{"t":394,"a":665,"b":570,"c":650,"d":975,"e":2770},
{"t":396,"a":650,"b":545,"c":645,"d":930,"e":2760},
{"t":398,"a":615,"b":495,"c":680,"d":905,"e":2800},
{"t":400,"a":635,"b":520,"c":655,"d":920,"e":2740}
]},
"vconcat": [
{
  "width": 604, "height": 90,
  "resolve": {"axis": {"x": "independent", "y": "independent"}},
  "layer": [
    {"data": {"name": "lc"},
     "mark": {"type": "line", "color": "#ff0000", "strokeWidth": 1, "clip": true},
     "encoding": {
       "x": {"field": "t", "type": "quantitative", "scale": {"domain": [-522, 422], "nice": false, "zero": false}, "axis": null},
       "y": {"field": "a", "type": "quantitative", "scale": {"domain": [428, 690], "nice": false, "zero": false},
             "axis": {"orient": "left", "title": null, "format": "d", "values": [500,600]}}
     }},
    {"data": {"name": "y0M"}, "mark": {"type": "tick", "orient": "horizontal", "size": 6}, "encoding": {"y": {"field": "v", "type": "quantitative", "axis": null}, "x": {"datum": -517.31, "type": "quantitative", "axis": null}}},
    {"data": {"name": "y0M"}, "mark": {"type": "tick", "orient": "horizontal", "size": 6}, "encoding": {"y": {"field": "v", "type": "quantitative", "axis": null}, "x": {"datum": 417.31, "type": "quantitative", "axis": null}}},
    {"data": {"name": "y0m"}, "mark": {"type": "tick", "orient": "horizontal", "size": 3}, "encoding": {"y": {"field": "v", "type": "quantitative", "axis": null}, "x": {"datum": -519.66, "type": "quantitative", "axis": null}}},
    {"data": {"name": "y0m"}, "mark": {"type": "tick", "orient": "horizontal", "size": 3}, "encoding": {"y": {"field": "v", "type": "quantitative", "axis": null}, "x": {"datum": 419.66, "type": "quantitative", "axis": null}}},
    {"data": {"name": "xM"}, "mark": {"type": "tick", "orient": "vertical", "size": 6}, "encoding": {"x": {"field": "v", "type": "quantitative", "axis": null}, "y": {"datum": 681.27, "type": "quantitative", "axis": null}}},
    {"data": {"name": "xm"}, "mark": {"type": "tick", "orient": "vertical", "size": 3}, "encoding": {"x": {"field": "v", "type": "quantitative", "axis": null}, "y": {"datum": 685.63, "type": "quantitative", "axis": null}}},
    {"data": {"name": "xM"}, "mark": {"type": "tick", "orient": "vertical", "size": 12}, "encoding": {"x": {"field": "v", "type": "quantitative", "axis": null}, "y": {"datum": 428, "type": "quantitative", "axis": null}}},
    {"data": {"name": "xm"}, "mark": {"type": "tick", "orient": "vertical", "size": 6}, "encoding": {"x": {"field": "v", "type": "quantitative", "axis": null}, "y": {"datum": 428, "type": "quantitative", "axis": null}}},
    {"data": {"values": [{"label": "TH0"}]}, "mark": {"type": "text"},
     "encoding": {"x": {"datum": 410, "type": "quantitative", "axis": null}, "y": {"datum": 644, "type": "quantitative", "axis": null}, "text": {"field": "label"}}}
  ]
},
{
  "width": 604, "height": 90,
  "resolve": {"axis": {"x": "independent", "y": "independent"}},
  "layer": [
    {"data": {"name": "lc"},
     "mark": {"type": "line", "color": "#00ff00", "strokeWidth": 1, "clip": true},
     "encoding": {
       "x": {"field": "t", "type": "quantitative", "scale": {"domain": [-522, 422], "nice": false, "zero": false}, "axis": null},
       "y": {"field": "b", "type": "quantitative", "scale": {"domain": [393, 592], "nice": false, "zero": false},
             "axis": {"orient": "left", "title": null, "format": "d", "values": [400,450,500,550]}}
     }},
    {"data": {"name": "y1M"}, "mark": {"type": "tick", "orient": "horizontal", "size": 6}, "encoding": {"y": {"field": "v", "type": "quantitative", "axis": null}, "x": {"datum": -517.31, "type": "quantitative", "axis": null}}},
    {"data": {"name": "y1M"}, "mark": {"type": "tick", "orient": "horizontal", "size": 6}, "encoding": {"y": {"field": "v", "type": "quantitative", "axis": null}, "x": {"datum": 417.31, "type": "quantitative", "axis": null}}},
    {"data": {"name": "y1m"}, "mark": {"type": "tick", "orient": "horizontal", "size": 3}, "encoding": {"y": {"field": "v", "type": "quantitative", "axis": null}, "x": {"datum": -519.66, "type": "quantitative", "axis": null}}},
    {"data": {"name": "y1m"}, "mark": {"type": "tick", "orient": "horizontal", "size": 3}, "encoding": {"y": {"field": "v", "type": "quantitative", "axis": null}, "x": {"datum": 419.66, "type": "quantitative", "axis": null}}},
    {"data": {"name": "xM"}, "mark": {"type": "tick", "orient": "vertical", "size": 12}, "encoding": {"x": {"field": "v", "type": "quantitative", "axis": null}, "y": {"datum": 393, "type": "quantitative", "axis": null}}},
    {"data": {"name": "xm"}, "mark": {"type": "tick", "orient": "vertical", "size": 6}, "encoding": {"x": {"field": "v", "type": "quantitative", "axis": null}, "y": {"datum": 393, "type": "quantitative", "axis": null}}},
    {"data": {"values": [{"label": "TH1"}]}, "mark": {"type": "text"},
     "encoding": {"x": {"datum": 410, "type": "quantitative", "axis": null}, "y": {"datum": 557, "type": "quantitative", "axis": null}, "text": {"field": "label"}}}
  ]
},
{
  "width": 604, "height": 90,
  "resolve": {"axis": {"x": "independent", "y": "independent"}},
  "layer": [
    {"data": {"name": "lc"},
     "mark": {"type": "line", "color": "#0000ff", "strokeWidth": 1, "clip": true},
     "encoding": {
       "x": {"field": "t", "type": "quantitative", "scale": {"domain": [-522, 422], "nice": false, "zero": false}, "axis": null},
       "y": {"field": "c", "type": "quantitative", "scale": {"domain": [482, 689], "nice": false, "zero": false},
             "axis": {"orient": "left", "title": "Counts/sec", "titleX": -67, "titleY": 45, "titleAngle": 270, "titleAlign": "center", "titleBaseline": "middle", "format": "d", "values": [500,550,600,650]}}
     }},
    {"data": {"name": "y2M"}, "mark": {"type": "tick", "orient": "horizontal", "size": 6}, "encoding": {"y": {"field": "v", "type": "quantitative", "axis": null}, "x": {"datum": -517.31, "type": "quantitative", "axis": null}}},
    {"data": {"name": "y2M"}, "mark": {"type": "tick", "orient": "horizontal", "size": 6}, "encoding": {"y": {"field": "v", "type": "quantitative", "axis": null}, "x": {"datum": 417.31, "type": "quantitative", "axis": null}}},
    {"data": {"name": "y2m"}, "mark": {"type": "tick", "orient": "horizontal", "size": 3}, "encoding": {"y": {"field": "v", "type": "quantitative", "axis": null}, "x": {"datum": -519.66, "type": "quantitative", "axis": null}}},
    {"data": {"name": "y2m"}, "mark": {"type": "tick", "orient": "horizontal", "size": 3}, "encoding": {"y": {"field": "v", "type": "quantitative", "axis": null}, "x": {"datum": 419.66, "type": "quantitative", "axis": null}}},
    {"data": {"name": "xM"}, "mark": {"type": "tick", "orient": "vertical", "size": 12}, "encoding": {"x": {"field": "v", "type": "quantitative", "axis": null}, "y": {"datum": 482, "type": "quantitative", "axis": null}}},
    {"data": {"name": "xm"}, "mark": {"type": "tick", "orient": "vertical", "size": 6}, "encoding": {"x": {"field": "v", "type": "quantitative", "axis": null}, "y": {"datum": 482, "type": "quantitative", "axis": null}}},
    {"data": {"values": [{"label": "TH2"}]}, "mark": {"type": "text"},
     "encoding": {"x": {"datum": 410, "type": "quantitative", "axis": null}, "y": {"datum": 652, "type": "quantitative", "axis": null}, "text": {"field": "label"}}}
  ]
},
{
  "width": 604, "height": 90,
  "resolve": {"axis": {"x": "independent", "y": "independent"}},
  "layer": [
    {"data": {"name": "lc"},
     "mark": {"type": "line", "color": "#00ffff", "strokeWidth": 1, "clip": true},
     "encoding": {
       "x": {"field": "t", "type": "quantitative", "scale": {"domain": [-522, 422], "nice": false, "zero": false}, "axis": null},
       "y": {"field": "d", "type": "quantitative", "scale": {"domain": [677, 1021], "nice": false, "zero": false},
             "axis": {"orient": "left", "title": null, "format": "d", "values": [700,800,900,1000]}}
     }},
    {"data": {"name": "y3M"}, "mark": {"type": "tick", "orient": "horizontal", "size": 6}, "encoding": {"y": {"field": "v", "type": "quantitative", "axis": null}, "x": {"datum": -517.31, "type": "quantitative", "axis": null}}},
    {"data": {"name": "y3M"}, "mark": {"type": "tick", "orient": "horizontal", "size": 6}, "encoding": {"y": {"field": "v", "type": "quantitative", "axis": null}, "x": {"datum": 417.31, "type": "quantitative", "axis": null}}},
    {"data": {"name": "y3m"}, "mark": {"type": "tick", "orient": "horizontal", "size": 3}, "encoding": {"y": {"field": "v", "type": "quantitative", "axis": null}, "x": {"datum": -519.66, "type": "quantitative", "axis": null}}},
    {"data": {"name": "y3m"}, "mark": {"type": "tick", "orient": "horizontal", "size": 3}, "encoding": {"y": {"field": "v", "type": "quantitative", "axis": null}, "x": {"datum": 419.66, "type": "quantitative", "axis": null}}},
    {"data": {"name": "xM"}, "mark": {"type": "tick", "orient": "vertical", "size": 12}, "encoding": {"x": {"field": "v", "type": "quantitative", "axis": null}, "y": {"datum": 677, "type": "quantitative", "axis": null}}},
    {"data": {"name": "xm"}, "mark": {"type": "tick", "orient": "vertical", "size": 6}, "encoding": {"x": {"field": "v", "type": "quantitative", "axis": null}, "y": {"datum": 677, "type": "quantitative", "axis": null}}},
    {"data": {"values": [{"label": "TH3"}]}, "mark": {"type": "text"},
     "encoding": {"x": {"datum": 410, "type": "quantitative", "axis": null}, "y": {"datum": 978, "type": "quantitative", "axis": null}, "text": {"field": "label"}}}
  ]
},
{
  "width": 604, "height": 90,
  "resolve": {"axis": {"x": "independent", "y": "independent"}},
  "layer": [
    {"data": {"name": "lc"},
     "mark": {"type": "line", "color": "#ff00ff", "strokeWidth": 1, "clip": true},
     "encoding": {
       "x": {"field": "t", "type": "quantitative", "scale": {"domain": [-522, 422], "nice": false, "zero": false},
             "axis": {"orient": "bottom", "title": "Time [sec] 0 = 2012/10/14 18:01:26", "titleX": 291, "titleY": 33, "titleAlign": "center", "titleBaseline": "alphabetic", "values": [-400,-200,0,200,400]}},
       "y": {"field": "e", "type": "quantitative", "scale": {"domain": [2124, 2846], "nice": false, "zero": false},
             "axis": {"orient": "left", "title": null, "format": "d", "values": [2200,2400,2600,2800]}}
     }},
    {"data": {"name": "y4M"}, "mark": {"type": "tick", "orient": "horizontal", "size": 6}, "encoding": {"y": {"field": "v", "type": "quantitative", "axis": null}, "x": {"datum": -517.31, "type": "quantitative", "axis": null}}},
    {"data": {"name": "y4M"}, "mark": {"type": "tick", "orient": "horizontal", "size": 6}, "encoding": {"y": {"field": "v", "type": "quantitative", "axis": null}, "x": {"datum": 417.31, "type": "quantitative", "axis": null}}},
    {"data": {"name": "y4m"}, "mark": {"type": "tick", "orient": "horizontal", "size": 3}, "encoding": {"y": {"field": "v", "type": "quantitative", "axis": null}, "x": {"datum": -519.66, "type": "quantitative", "axis": null}}},
    {"data": {"name": "y4m"}, "mark": {"type": "tick", "orient": "horizontal", "size": 3}, "encoding": {"y": {"field": "v", "type": "quantitative", "axis": null}, "x": {"datum": 419.66, "type": "quantitative", "axis": null}}},
    {"data": {"name": "xM"}, "mark": {"type": "tick", "orient": "vertical", "size": 6}, "encoding": {"x": {"field": "v", "type": "quantitative", "axis": null}, "y": {"datum": 2148.07, "type": "quantitative", "axis": null}}},
    {"data": {"name": "xm"}, "mark": {"type": "tick", "orient": "vertical", "size": 3}, "encoding": {"x": {"field": "v", "type": "quantitative", "axis": null}, "y": {"datum": 2136.03, "type": "quantitative", "axis": null}}},
    {"data": {"values": [{"label": "TH0123"}]}, "mark": {"type": "text"},
     "encoding": {"x": {"datum": 416, "type": "quantitative", "axis": null}, "y": {"datum": 2715, "type": "quantitative", "axis": null}, "text": {"field": "label"}}}
  ]
}
]
}
